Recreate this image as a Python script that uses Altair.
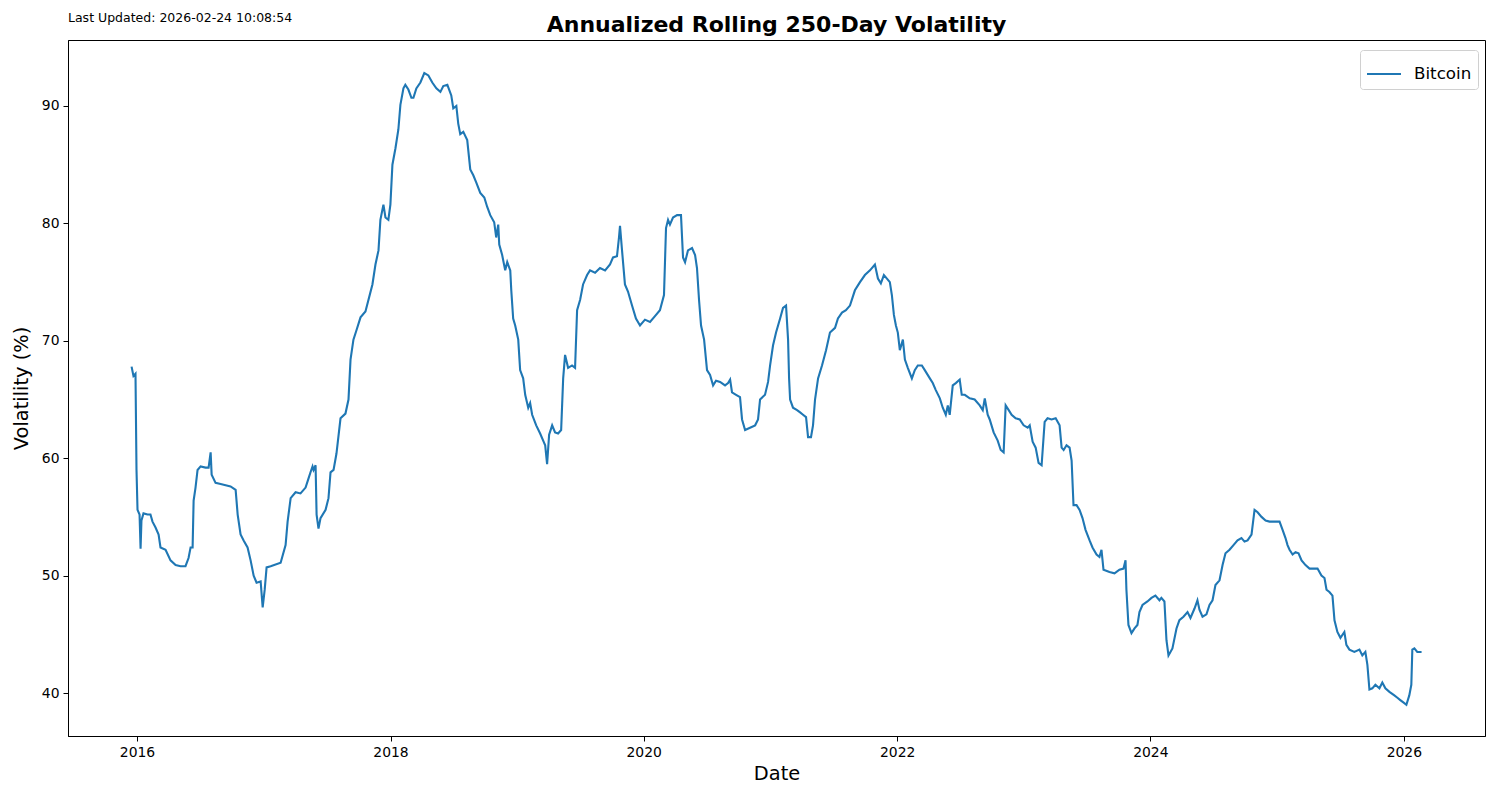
import altair as alt
import pandas as pd
import math

# ---- data ----
# dates as fractional years, annualised rolling 250-day volatility in %
year_frac = [
    2015.957, 2015.972, 2015.988, 2015.996, 2016.004, 2016.020, 2016.028, 2016.035, 2016.051, 2016.083,
    2016.106, 2016.122, 2016.146, 2016.170, 2016.185, 2016.225, 2016.264, 2016.304, 2016.343, 2016.382,
    2016.406, 2016.422, 2016.438, 2016.446, 2016.461, 2016.477, 2016.501, 2016.540, 2016.564, 2016.580,
    2016.588, 2016.619, 2016.659, 2016.737, 2016.777, 2016.793, 2016.816, 2016.840, 2016.871, 2016.895,
    2016.919, 2016.942, 2016.974, 2016.990, 2017.006, 2017.021, 2017.053, 2017.132, 2017.171, 2017.187,
    2017.211, 2017.250, 2017.289, 2017.329, 2017.353, 2017.368, 2017.384, 2017.392, 2017.408, 2017.416,
    2017.431, 2017.447, 2017.487, 2017.510, 2017.526, 2017.550, 2017.573, 2017.605, 2017.644, 2017.668,
    2017.684, 2017.707, 2017.731, 2017.763, 2017.802, 2017.826, 2017.857, 2017.881, 2017.905, 2017.920,
    2017.944, 2017.960, 2017.983, 2017.999, 2018.015, 2018.039, 2018.062, 2018.078, 2018.102, 2018.117,
    2018.141, 2018.165, 2018.181, 2018.204, 2018.236, 2018.267, 2018.299, 2018.330, 2018.362, 2018.394,
    2018.417, 2018.449, 2018.480, 2018.496, 2018.520, 2018.535, 2018.551, 2018.575, 2018.606, 2018.630,
    2018.654, 2018.677, 2018.709, 2018.741, 2018.764, 2018.788, 2018.819, 2018.835, 2018.851, 2018.859,
    2018.882, 2018.906, 2018.922, 2018.946, 2018.954, 2018.969, 2018.985, 2019.009, 2019.024, 2019.048,
    2019.064, 2019.088, 2019.103, 2019.119, 2019.151, 2019.182, 2019.206, 2019.222, 2019.237, 2019.253,
    2019.277, 2019.300, 2019.324, 2019.348, 2019.364, 2019.379, 2019.403, 2019.434, 2019.458, 2019.474,
    2019.498, 2019.521, 2019.553, 2019.576, 2019.616, 2019.655, 2019.695, 2019.734, 2019.758, 2019.789,
    2019.805, 2019.813, 2019.829, 2019.852, 2019.876, 2019.908, 2019.939, 2019.971, 2020.010, 2020.050,
    2020.089, 2020.128, 2020.160, 2020.176, 2020.192, 2020.207, 2020.231, 2020.263, 2020.294, 2020.310,
    2020.326, 2020.349, 2020.381, 2020.405, 2020.420, 2020.436, 2020.452, 2020.476, 2020.499, 2020.523,
    2020.547, 2020.570, 2020.602, 2020.641, 2020.665, 2020.681, 2020.696, 2020.728, 2020.759, 2020.775,
    2020.799, 2020.838, 2020.878, 2020.901, 2020.917, 2020.956, 2020.980, 2020.996, 2021.019, 2021.043,
    2021.075, 2021.098, 2021.122, 2021.138, 2021.146, 2021.154, 2021.177, 2021.209, 2021.233, 2021.256,
    2021.280, 2021.296, 2021.319, 2021.335, 2021.351, 2021.375, 2021.406, 2021.438, 2021.469, 2021.509,
    2021.532, 2021.564, 2021.595, 2021.627, 2021.666, 2021.706, 2021.745, 2021.785, 2021.824, 2021.848,
    2021.871, 2021.895, 2021.919, 2021.942, 2021.958, 2021.974, 2021.990, 2022.005, 2022.021, 2022.045,
    2022.061, 2022.084, 2022.116, 2022.139, 2022.163, 2022.195, 2022.218, 2022.258, 2022.281, 2022.305,
    2022.337, 2022.360, 2022.384, 2022.400, 2022.415, 2022.439, 2022.463, 2022.494, 2022.510, 2022.534,
    2022.573, 2022.612, 2022.652, 2022.676, 2022.692, 2022.715, 2022.731, 2022.762, 2022.794, 2022.818,
    2022.841, 2022.857, 2022.881, 2022.904, 2022.936, 2022.968, 2022.999, 2023.031, 2023.047, 2023.070,
    2023.094, 2023.117, 2023.141, 2023.165, 2023.188, 2023.220, 2023.252, 2023.283, 2023.299, 2023.315,
    2023.338, 2023.362, 2023.378, 2023.393, 2023.417, 2023.441, 2023.464, 2023.488, 2023.520, 2023.543,
    2023.575, 2023.598, 2023.614, 2023.630, 2023.677, 2023.717, 2023.756, 2023.788, 2023.804, 2023.811,
    2023.827, 2023.851, 2023.875, 2023.898, 2023.914, 2023.938, 2023.977, 2024.009, 2024.040, 2024.072,
    2024.087, 2024.111, 2024.127, 2024.143, 2024.174, 2024.206, 2024.229, 2024.261, 2024.293, 2024.316,
    2024.348, 2024.371, 2024.387, 2024.411, 2024.442, 2024.466, 2024.490, 2024.513, 2024.545, 2024.569,
    2024.592, 2024.624, 2024.655, 2024.687, 2024.718, 2024.742, 2024.766, 2024.797, 2024.821, 2024.845,
    2024.876, 2024.908, 2024.939, 2024.979, 2025.018, 2025.042, 2025.065, 2025.081, 2025.097, 2025.121,
    2025.144, 2025.168, 2025.192, 2025.223, 2025.255, 2025.286, 2025.318, 2025.349, 2025.373, 2025.389,
    2025.412, 2025.436, 2025.452, 2025.475, 2025.499, 2025.530, 2025.546, 2025.570, 2025.609, 2025.649,
    2025.672, 2025.696, 2025.712, 2025.728, 2025.751, 2025.775, 2025.807, 2025.830, 2025.854, 2025.886,
    2025.925, 2025.949, 2025.972, 2025.996, 2026.020, 2026.043, 2026.059, 2026.067, 2026.083, 2026.106,
    2026.140,
]

volatility = [
    67.8, 67.0, 67.2, 59.0, 55.6, 55.2, 52.3, 54.7, 55.3, 55.2,
    55.2, 54.6, 54.1, 53.5, 52.4, 52.2, 51.3, 50.9, 50.8, 50.8,
    51.5, 52.4, 52.4, 56.4, 57.5, 59.0, 59.3, 59.2, 59.2, 60.5,
    58.6, 57.9, 57.8, 57.6, 57.3, 55.2, 53.5, 53.0, 52.4, 51.3,
    50.0, 49.4, 49.5, 47.3, 48.8, 50.7, 50.8, 51.1, 52.6, 54.6,
    56.6, 57.1, 57.0, 57.5, 58.3, 58.8, 59.3, 59.0, 59.4, 55.2,
    54.0, 54.9, 55.6, 56.6, 58.8, 59.0, 60.4, 63.4, 63.8, 65.0,
    68.4, 70.1, 70.9, 72.0, 72.5, 73.5, 74.8, 76.5, 77.7, 80.3,
    81.6, 80.5, 80.3, 81.6, 85.0, 86.4, 88.0, 90.1, 91.5, 91.8,
    91.4, 90.7, 90.7, 91.5, 92.0, 92.8, 92.6, 92.0, 91.5, 91.2,
    91.7, 91.8, 90.9, 89.8, 90.0, 88.5, 87.6, 87.8, 87.1, 84.6,
    84.1, 83.5, 82.6, 82.2, 81.4, 80.7, 80.1, 78.8, 79.9, 78.2,
    77.3, 76.0, 76.7, 76.0, 74.3, 71.9, 71.3, 70.1, 67.5, 66.8,
    65.4, 64.3, 64.7, 63.7, 62.8, 62.1, 61.5, 61.1, 59.5, 62.0,
    62.8, 62.2, 62.1, 62.4, 66.8, 68.8, 67.7, 67.9, 67.7, 72.6,
    73.5, 74.8, 75.6, 76.0, 75.8, 76.2, 76.0, 76.5, 77.1, 77.2,
    78.8, 79.8, 77.7, 74.8, 74.2, 73.0, 71.9, 71.3, 71.8, 71.6,
    72.1, 72.6, 73.9, 79.6, 80.3, 79.9, 80.5, 80.7, 80.7, 77.1,
    76.7, 77.7, 77.9, 77.3, 76.2, 73.5, 71.3, 70.1, 67.5, 67.1,
    66.2, 66.6, 66.5, 66.2, 66.4, 66.7, 65.6, 65.4, 65.2, 63.3,
    62.4, 62.6, 62.8, 63.3, 65.0, 65.4, 66.5, 67.9, 69.6, 70.7,
    71.9, 72.8, 73.0, 70.1, 66.8, 65.0, 64.3, 64.1, 63.9, 63.7,
    63.5, 61.8, 61.8, 62.8, 65.0, 66.8, 67.9, 69.2, 70.7, 71.1,
    71.9, 72.4, 72.6, 73.0, 74.3, 75.0, 75.6, 76.0, 76.5, 75.3,
    74.9, 75.6, 75.3, 75.0, 73.9, 72.2, 71.3, 70.7, 69.2, 70.1,
    68.4, 67.7, 66.8, 67.5, 67.9, 67.9, 67.5, 66.8, 66.4, 65.8,
    65.1, 64.3, 63.7, 64.5, 63.7, 66.2, 66.4, 66.7, 65.4, 65.4,
    65.1, 65.0, 64.5, 64.1, 65.1, 63.7, 63.3, 62.2, 61.5, 60.7,
    60.5, 64.5, 64.1, 63.7, 63.4, 63.3, 62.8, 62.6, 62.8, 61.4,
    60.9, 59.6, 59.4, 63.1, 63.4, 63.3, 63.4, 62.8, 60.9, 60.7,
    61.1, 60.9, 59.8, 56.0, 56.0, 55.6, 54.9, 53.9, 53.0, 52.4,
    51.8, 51.6, 52.2, 50.5, 50.3, 50.2, 50.5, 50.6, 51.3, 48.8,
    45.8, 45.1, 45.5, 45.8, 46.9, 47.5, 47.8, 48.1, 48.3, 47.9,
    48.1, 47.8, 44.5, 43.2, 43.8, 45.5, 46.2, 46.5, 46.9, 46.4,
    47.2, 47.9, 47.1, 46.5, 46.7, 47.5, 47.9, 49.2, 49.6, 50.9,
    51.9, 52.2, 52.6, 53.0, 53.2, 52.9, 53.0, 53.5, 55.6, 55.4,
    55.0, 54.7, 54.6, 54.6, 54.6, 53.9, 53.2, 52.6, 52.2, 51.8,
    52.0, 51.9, 51.3, 50.9, 50.6, 50.6, 50.6, 50.0, 49.8, 48.8,
    48.6, 48.3, 46.2, 45.2, 44.7, 45.2, 44.1, 43.7, 43.5, 43.7,
    43.2, 43.5, 42.4, 40.3, 40.4, 40.7, 40.4, 40.9, 40.4, 40.1,
    39.8, 39.6, 39.4, 39.2, 39.0, 39.8, 40.7, 43.7, 43.8, 43.5,
    43.5,
]

series_name = "Bitcoin"
chart_title = "Annualized Rolling 250-Day Volatility"
last_updated = "Last Updated: 2026-02-24 10:08:54"
x_tick_years = [2016, 2018, 2020, 2022, 2024, 2026]
y_tick_values = [40, 50, 60, 70, 80, 90]
x_limits = [2015.456, 2026.643]
y_limits = [36.34, 95.62]

PLOT_W = 1417
PLOT_H = 696


def frac_to_ts(f):
    yr = int(math.floor(f))
    ndays = 366 if (yr % 4 == 0 and (yr % 100 != 0 or yr % 400 == 0)) else 365
    return pd.Timestamp(year=yr, month=1, day=1) + pd.Timedelta(days=(f - yr) * ndays)


n = min(len(year_frac), len(volatility))
df = pd.DataFrame({
    "Date": [frac_to_ts(f) for f in year_frac[:n]],
    "Volatility": volatility[:n],
    "Series": [series_name] * n,
})

x_dom = [frac_to_ts(v) for v in x_limits]
x_domain = [alt.DateTime(year=t.year, month=t.month, date=t.day) for t in x_dom]
x_values = [alt.DateTime(year=y, month=1, date=1) for y in x_tick_years]

FONT = "DejaVu Sans"

line = alt.Chart(df).mark_line(strokeWidth=2.1, clip=True).encode(
    x=alt.X("Date:T",
            scale=alt.Scale(domain=x_domain),
            axis=alt.Axis(values=x_values, format="%Y", title="Date")),
    y=alt.Y("Volatility:Q",
            scale=alt.Scale(domain=y_limits, nice=False, zero=False),
            axis=alt.Axis(values=y_tick_values, title="Volatility (%)")),
    color=alt.Color("Series:N",
                    scale=alt.Scale(range=["#1f77b4"]),
                    legend=alt.Legend(title=None, orient="none", legendX=1292, legendY=10,
                                      symbolType="stroke", symbolSize=1156, symbolStrokeWidth=2,
                                      labelFontSize=16.7, labelFont=FONT, labelColor="black",
                                      labelOffset=12, padding=6, strokeColor="#d0d0d0",
                                      fillColor="white", cornerRadius=3)),
)

note = alt.Chart(pd.DataFrame({"t": [last_updated]})).mark_text(
    align="left", baseline="alphabetic", fontSize=12.5, font=FONT, color="black"
).encode(x=alt.value(0), y=alt.value(-18), text="t:N")

title_mark = alt.Chart(pd.DataFrame({"t": [chart_title]})).mark_text(
    align="center", baseline="alphabetic", fontSize=22, fontWeight="bold", font=FONT, color="black"
).encode(x=alt.value(PLOT_W / 2), y=alt.value(-8), text="t:N")

chart = alt.layer(line, note, title_mark).properties(
    width=PLOT_W,
    height=PLOT_H,
    padding={"left": 60, "top": 32, "right": 7, "bottom": 56},
    autosize="none",
).configure_view(
    stroke="black", strokeWidth=1
).configure_axis(
    grid=False, domainColor="black", tickColor="black", tickSize=5, tickWidth=1,
    labelFont=FONT, labelFontSize=13.9, labelColor="black", labelPadding=4,
    titleFont=FONT, titleFontSize=19.4, titleFontWeight="normal", titleColor="black",
).configure_axisX(
    titlePadding=6
).configure_axisY(
    titlePadding=10
)

chart.save("out.html", embed_options={"renderer": "svg", "actions": False})
